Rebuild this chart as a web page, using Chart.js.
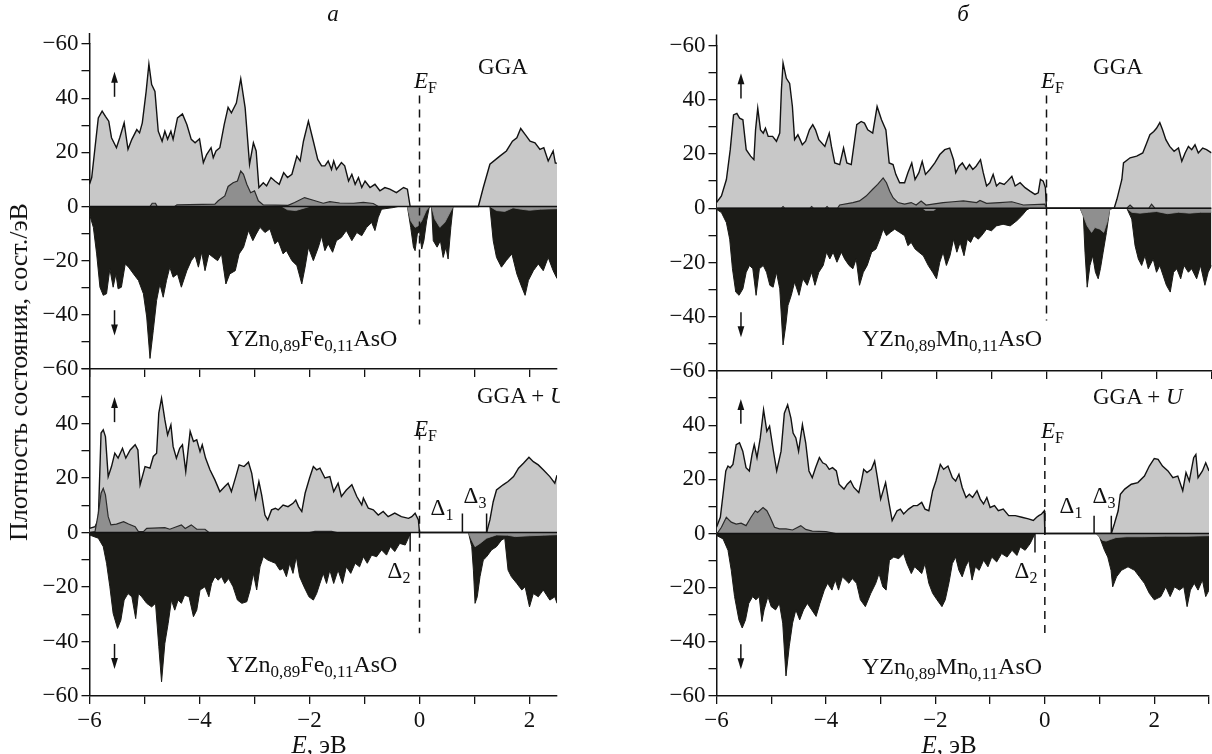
<!DOCTYPE html>
<html>
<head>
<meta charset="utf-8">
<script src="https://cdn.jsdelivr.net/npm/chart.js@4.4.1/dist/chart.umd.min.js"></script>
<style>
  html, body { margin: 0; padding: 0; background: #fff; }
  #wrap { position: relative; width: 1212px; height: 754px; overflow: hidden;
          font-family: "Liberation Serif", "Times New Roman", serif; color: #111; }
  canvas { position: absolute; left: 0; top: 0; }
  .t { position: absolute; white-space: nowrap; font-size: 23px; line-height: 1; }
  .c { transform: translate(-50%, -50%); }
  .l { transform: translateY(-50%); }
  .s { font-size: 16px; position: relative; top: 5px; }
  .f { font-size: 24px; }
  .f .s { font-size: 17px; }
  .ytitle { transform: translate(-50%, -50%) rotate(-90deg); font-size: 26px; }
  .xtitle { font-size: 25px; }
  #leftClip { position: absolute; left: 0; top: 0; width: 560px; height: 754px; overflow: hidden; }
</style>
</head>
<body>
<div id="wrap">
  <canvas id="feGga" width="1212" height="754"></canvas>
  <canvas id="feU" width="1212" height="754"></canvas>
  <canvas id="mnGga" width="1212" height="754"></canvas>
  <canvas id="mnU" width="1212" height="754"></canvas>

  <div class="t c" style="left:333px;top:13px;"><i>а</i></div>
  <div class="t c" style="left:963px;top:13px;"><i>б</i></div>

  <div class="t c ytitle" style="left:19px;top:372px;">Плотность состояния, сост./эВ</div>
  <div class="t c xtitle" style="left:319px;top:744px;"><i>E</i>, эВ</div>
  <div class="t c xtitle" style="left:949px;top:744px;"><i>E</i>, эВ</div>

  <div id="leftClip">
    <div class="t l" style="left:477px;top:395px;">GGA + <i>U</i></div>
  </div>
  <div class="t c" style="left:503px;top:66px;">GGA</div>
  <div class="t c" style="left:1118px;top:66px;">GGA</div>
  <div class="t l" style="left:1093px;top:396px;">GGA + <i>U</i></div>

  <div class="t l" style="left:414px;top:80px;"><i>E</i><span class="s">F</span></div>
  <div class="t l" style="left:414px;top:428px;"><i>E</i><span class="s">F</span></div>
  <div class="t l" style="left:1041px;top:80px;"><i>E</i><span class="s">F</span></div>
  <div class="t l" style="left:1041px;top:430px;"><i>E</i><span class="s">F</span></div>

  <div class="t c f" style="left:312px;top:338px;">YZn<span class="s">0,89</span>Fe<span class="s">0,11</span>AsO</div>
  <div class="t c f" style="left:312px;top:664px;">YZn<span class="s">0,89</span>Fe<span class="s">0,11</span>AsO</div>
  <div class="t c f" style="left:952px;top:338px;">YZn<span class="s">0,89</span>Mn<span class="s">0,11</span>AsO</div>
  <div class="t c f" style="left:952px;top:666px;">YZn<span class="s">0,89</span>Mn<span class="s">0,11</span>AsO</div>

  <div class="t c" style="left:442px;top:507px;">Δ<span class="s">1</span></div>
  <div class="t c" style="left:475px;top:495px;">Δ<span class="s">3</span></div>
  <div class="t c" style="left:399px;top:570px;">Δ<span class="s">2</span></div>
  <div class="t c" style="left:1071px;top:505px;">Δ<span class="s">1</span></div>
  <div class="t c" style="left:1104px;top:495px;">Δ<span class="s">3</span></div>
  <div class="t c" style="left:1026px;top:570px;">Δ<span class="s">2</span></div>
</div>

<script>
// Density of states, [energy (eV), states/eV]; spin up positive, spin down negative.

// YZn0.89Fe0.11AsO, GGA
const feGgaUp = [[-6,8.2],[-5.96,10.7],[-5.9,21.7],[-5.84,32.7],[-5.77,35.2],[-5.71,33.3],[-5.65,31.5],[-5.6,25.4],[-5.51,21.7],[-5.45,25.4],[-5.37,30.9],[-5.3,21.1],[-5.23,24.8],[-5.14,28.4],[-5.09,27.2],[-5.04,30.9],[-4.97,42.5],[-4.92,52.6],[-4.87,45],[-4.81,42.5],[-4.75,27.8],[-4.68,24.1],[-4.63,27.8],[-4.58,24.8],[-4.52,27.8],[-4.48,24.8],[-4.4,32.7],[-4.31,34.2],[-4.23,30.3],[-4.15,24.8],[-4.08,23.5],[-4.0,25],[-3.93,16.2],[-3.87,19.2],[-3.79,21.7],[-3.75,18],[-3.7,20.5],[-3.63,21.7],[-3.55,30.3],[-3.48,36.6],[-3.42,34.6],[-3.33,38.2],[-3.25,47.2],[-3.17,36.4],[-3.09,15.6],[-3.02,23.5],[-2.97,20.5],[-2.92,7],[-2.84,8.8],[-2.78,7.6],[-2.7,10.7],[-2.63,9.4],[-2.55,8.2],[-2.47,12.5],[-2.4,10.7],[-2.32,11.9],[-2.23,18.6],[-2.17,16.8],[-2.11,24.1],[-2.02,31.5],[-1.93,24.1],[-1.85,17.4],[-1.78,15],[-1.72,15],[-1.66,16.8],[-1.6,13.7],[-1.56,16.8],[-1.51,13.7],[-1.42,16.2],[-1.36,15],[-1.29,9.4],[-1.23,11.9],[-1.17,8.2],[-1.11,10.7],[-1.05,7],[-0.99,9.4],[-0.9,7],[-0.81,8.2],[-0.72,5.8],[-0.63,7],[-0.54,6.4],[-0.42,5.1],[-0.29,7],[-0.22,6.4],[-0.17,0],[1.07,0],[1.16,7],[1.28,15.6],[1.46,18.6],[1.58,20.5],[1.69,24.1],[1.77,25.4],[1.84,28.8],[1.92,26.6],[2.01,24.1],[2.1,23.5],[2.19,21.1],[2.26,21.7],[2.34,16.8],[2.43,20.5],[2.47,16],[2.5,16]];
const feGgaUpFe = [[-6,0],[-4.9,0],[-4.86,1.2],[-4.8,1.2],[-4.77,0],[-4.45,0],[-4.41,0.6],[-3.72,0.9],[-3.66,2.1],[-3.54,3.9],[-3.48,7.4],[-3.39,8.8],[-3.31,9.4],[-3.25,13.1],[-3.2,11.9],[-3.14,8.2],[-3.07,5.1],[-3.0,5.8],[-2.93,2.1],[-2.84,0.6],[-2.39,0.4],[-2.27,1.5],[-2.09,3.3],[-1.93,2.3],[-1.75,1.2],[-1.63,1.8],[-1.45,1.3],[-1.2,1.2],[-1.02,1.5],[-0.84,1.1],[-0.75,0],[2.5,0]];
const feGgaDown = [[-6,-2.8],[-5.93,-7.7],[-5.87,-17.5],[-5.81,-29.8],[-5.75,-32.8],[-5.69,-32.2],[-5.63,-23],[-5.57,-29.8],[-5.52,-24.9],[-5.48,-30.4],[-5.42,-29.8],[-5.35,-21.2],[-5.29,-22.4],[-5.2,-24.9],[-5.11,-27.3],[-5.02,-32.2],[-4.96,-40.8],[-4.9,-56.1],[-4.84,-45.7],[-4.78,-34.7],[-4.72,-28.6],[-4.66,-33.5],[-4.6,-27.3],[-4.54,-22.4],[-4.48,-26.1],[-4.4,-24.9],[-4.33,-29.8],[-4.23,-23.7],[-4.15,-20],[-4.08,-18.1],[-4.02,-22.4],[-3.96,-16.9],[-3.9,-23.7],[-3.83,-17.5],[-3.75,-18.8],[-3.67,-20],[-3.6,-17.5],[-3.52,-28.6],[-3.45,-24.9],[-3.35,-23.7],[-3.28,-17.5],[-3.2,-15.1],[-3.11,-8.9],[-3.03,-12.6],[-2.97,-10.2],[-2.9,-7.7],[-2.81,-9.6],[-2.72,-8.3],[-2.63,-13.8],[-2.57,-12.6],[-2.48,-17.5],[-2.42,-16.3],[-2.32,-20],[-2.23,-21.8],[-2.14,-28.6],[-2.08,-22.4],[-2.02,-15.1],[-1.93,-20],[-1.84,-15.1],[-1.78,-11],[-1.72,-16.3],[-1.66,-13.8],[-1.58,-16.9],[-1.51,-12.6],[-1.42,-11.4],[-1.33,-8.9],[-1.23,-12.6],[-1.14,-9.6],[-1.05,-10.8],[-0.96,-7.7],[-0.87,-5.9],[-0.81,-8.9],[-0.75,-4],[-0.69,-1],[-0.48,-0.4],[-0.39,0],[-0.22,0],[-0.16,-7.7],[-0.11,-15],[-0.08,-16.3],[-0.04,-10.2],[0,-9],[0.04,-15.7],[0.08,-12.6],[0.13,-5.3],[0.18,0],[0.22,0],[0.25,-12.6],[0.32,-15],[0.38,-12.6],[0.43,-18.8],[0.48,-15],[0.52,-19.4],[0.57,-7.7],[0.61,0],[1.28,0],[1.34,-12.6],[1.4,-18.8],[1.49,-22.4],[1.58,-19.9],[1.68,-17.5],[1.77,-24.9],[1.86,-29.8],[1.92,-32.8],[1.98,-27.3],[2.07,-23.7],[2.16,-21.2],[2.25,-23.7],[2.34,-18.8],[2.43,-23.7],[2.5,-26.6]];
const feGgaDownFe = [[-6,0],[-2.5,0],[-2.4,-1.2],[-2.25,-1.5],[-2.1,-0.6],[-2.0,0],[-0.22,0],[-0.16,-5.3],[-0.08,-7.7],[-0.02,-7.1],[0.04,-5.3],[0.12,-1.6],[0.18,0],[0.22,0],[0.28,-4.7],[0.37,-7.7],[0.46,-5.9],[0.54,-2.8],[0.61,0],[1.28,0],[1.4,-1.5],[1.55,-1.8],[1.7,-0.5],[1.85,-1.0],[2.0,-1.4],[2.2,-1.0],[2.5,-0.8]];

// YZn0.89Fe0.11AsO, GGA + U
const feUUp = [[-6,1.5],[-5.9,2.1],[-5.84,4.6],[-5.79,36.5],[-5.75,37.7],[-5.71,35.2],[-5.66,20.5],[-5.6,24.2],[-5.54,29.1],[-5.48,27.3],[-5.4,30.9],[-5.34,27.3],[-5.26,30.3],[-5.17,32.2],[-5.12,30.3],[-5.08,17.5],[-4.99,24.2],[-4.9,23.6],[-4.84,27.9],[-4.78,29.1],[-4.74,43.8],[-4.69,49.3],[-4.63,41.4],[-4.58,35.8],[-4.52,39.5],[-4.48,31.6],[-4.42,27.3],[-4.36,30.9],[-4.31,32.2],[-4.25,22.4],[-4.17,37.1],[-4.11,33.4],[-4.05,34],[-3.99,29.7],[-3.95,32.2],[-3.89,27.3],[-3.81,23],[-3.72,19.3],[-3.63,15],[-3.54,16.9],[-3.48,18.1],[-3.42,15],[-3.34,20.5],[-3.28,24.8],[-3.19,24.2],[-3.11,25.8],[-3.05,21.7],[-2.98,12.6],[-2.92,18.7],[-2.87,13.8],[-2.81,6.4],[-2.76,4.6],[-2.69,8.3],[-2.62,8.9],[-2.57,8.3],[-2.48,10.1],[-2.39,9.5],[-2.3,10.7],[-2.25,11.9],[-2.2,9.5],[-2.14,7.7],[-2.08,14.4],[-2.0,19.9],[-1.93,24.2],[-1.87,23],[-1.81,23.6],[-1.72,20],[-1.63,20.5],[-1.56,15],[-1.48,18.1],[-1.42,13.2],[-1.33,15.6],[-1.23,17.5],[-1.14,13.2],[-1.05,10.1],[-1.02,12.6],[-0.93,8.9],[-0.84,8.3],[-0.75,6.4],[-0.66,7.7],[-0.57,5.8],[-0.45,7.1],[-0.33,5.8],[-0.2,5.2],[-0.14,5.8],[-0.08,7.1],[-0.02,4.6],[0,0],[1.22,0],[1.28,4.6],[1.34,11.3],[1.4,15.6],[1.52,17.5],[1.61,18.7],[1.71,20.5],[1.8,23.6],[1.89,25.4],[1.99,27.6],[2.07,26],[2.16,24.8],[2.25,23],[2.37,20.5],[2.46,18.1],[2.5,21]];
const feUUpFe = [[-6,0],[-5.9,0.3],[-5.84,7],[-5.79,14.4],[-5.75,16.2],[-5.71,13.8],[-5.66,5.8],[-5.61,2.8],[-5.51,3.1],[-5.38,4],[-5.29,3.1],[-5.17,2.1],[-5.11,0.3],[-5.02,0.3],[-4.96,1.5],[-4.63,1.8],[-4.54,1.2],[-4.42,2.1],[-4.33,2.8],[-4.26,1.5],[-4.15,2.8],[-4.05,1.2],[-3.9,1.2],[-3.83,0],[-2.0,0],[-1.9,0.4],[-1.6,0.4],[-1.5,0],[2.5,0]];
const feUDown = [[-6,-0.9],[-5.84,-2.1],[-5.75,-5.2],[-5.69,-11.3],[-5.63,-19.9],[-5.57,-29.7],[-5.49,-35.2],[-5.43,-32.2],[-5.37,-24.8],[-5.3,-22.4],[-5.23,-23.6],[-5.16,-31.6],[-5.11,-22.4],[-5.05,-23.6],[-4.96,-26],[-4.87,-27.3],[-4.8,-26],[-4.74,-41.9],[-4.69,-54.8],[-4.63,-40.7],[-4.57,-33.4],[-4.51,-24.8],[-4.45,-28.5],[-4.39,-24.8],[-4.33,-26],[-4.27,-23],[-4.19,-23.6],[-4.11,-30.9],[-4.05,-28.5],[-3.99,-21.1],[-3.9,-19.9],[-3.83,-23.6],[-3.78,-18.7],[-3.72,-16.2],[-3.66,-17.5],[-3.6,-16.2],[-3.54,-18.7],[-3.47,-16.9],[-3.39,-19.9],[-3.31,-24.8],[-3.23,-26],[-3.14,-25.4],[-3.08,-21.1],[-3.02,-15],[-2.96,-21.1],[-2.9,-12.6],[-2.84,-8.9],[-2.76,-10.1],[-2.69,-10.7],[-2.62,-11.3],[-2.54,-13.8],[-2.48,-13.2],[-2.42,-16.2],[-2.36,-11.3],[-2.3,-15],[-2.24,-8.9],[-2.18,-16.2],[-2.1,-19.9],[-2.01,-23.6],[-1.93,-24.8],[-1.87,-22.4],[-1.81,-18.7],[-1.75,-15],[-1.69,-18.7],[-1.63,-13.8],[-1.56,-18.7],[-1.48,-13.8],[-1.4,-18.7],[-1.33,-12.6],[-1.25,-15],[-1.17,-11.3],[-1.09,-12.6],[-1.02,-8.9],[-0.95,-11.3],[-0.87,-8.3],[-0.78,-8.9],[-0.69,-6.4],[-0.6,-8.3],[-0.53,-5.2],[-0.45,-7],[-0.36,-4],[-0.26,-4.6],[-0.19,-1.5],[-0.16,0],[0.89,0],[0.95,-5.2],[0.98,-13.8],[1.01,-26],[1.05,-23.6],[1.1,-16.2],[1.16,-10.1],[1.22,-8.9],[1.31,-6.4],[1.4,-5.2],[1.49,-2.8],[1.55,-2.1],[1.61,-13.8],[1.67,-16.2],[1.77,-18.7],[1.86,-21.1],[1.92,-19.9],[2.0,-27.3],[2.07,-22.4],[2.16,-23.6],[2.25,-21.1],[2.37,-24.8],[2.46,-23.6],[2.5,-26]];
const feUDownFe = [[-6,0],[0.89,0],[0.95,-2.8],[1.01,-5.2],[1.1,-4],[1.22,-2.1],[1.4,-0.9],[1.6,-1.0],[1.74,-1.5],[2.0,-1.2],[2.25,-1.0],[2.5,-0.8]];

// YZn0.89Mn0.11AsO, GGA
const mnGgaUp = [[-6,2.1],[-5.91,4.5],[-5.82,10.6],[-5.75,21.6],[-5.69,34.4],[-5.63,35],[-5.58,33.2],[-5.52,32.6],[-5.46,21.6],[-5.38,19.2],[-5.32,17.9],[-5.29,28.9],[-5.25,36.9],[-5.2,28.9],[-5.15,27.7],[-5.11,29.5],[-5.06,26.5],[-4.98,26.5],[-4.91,24.7],[-4.85,27.7],[-4.82,43.6],[-4.79,53.6],[-4.73,47.9],[-4.67,46],[-4.62,37.5],[-4.58,25.3],[-4.52,27.1],[-4.48,25.3],[-4.44,23.4],[-4.38,24.7],[-4.31,28.9],[-4.25,30.8],[-4.2,28.9],[-4.14,25.3],[-4.03,22.8],[-3.95,27.7],[-3.91,22.8],[-3.85,16.7],[-3.76,16.1],[-3.69,22.2],[-3.63,16.7],[-3.55,16.1],[-3.45,30.8],[-3.37,32],[-3.31,31.4],[-3.25,28.9],[-3.16,27.7],[-3.08,37.5],[-3.0,32.6],[-2.92,28.9],[-2.86,16.7],[-2.79,16.1],[-2.74,12.5],[-2.67,9.4],[-2.58,9.4],[-2.52,13.1],[-2.45,16.7],[-2.39,10.6],[-2.32,13.1],[-2.26,17.3],[-2.2,12.5],[-2.12,14.3],[-2.03,16.7],[-1.94,19.8],[-1.85,21.6],[-1.76,22.2],[-1.69,17.9],[-1.65,13.1],[-1.59,15.5],[-1.53,16.7],[-1.46,14.3],[-1.4,16.1],[-1.34,14.3],[-1.28,15.5],[-1.2,17.9],[-1.15,13.1],[-1.09,8.2],[-1.03,9.4],[-0.97,12.5],[-0.91,8.2],[-0.85,9.4],[-0.77,8.8],[-0.71,10],[-0.63,11.8],[-0.57,8.2],[-0.48,9.4],[-0.39,7.6],[-0.3,6.3],[-0.21,5.1],[-0.15,5.7],[-0.11,10.6],[-0.06,10],[-0.02,7.6],[0,0],[1.23,0],[1.28,3.3],[1.37,10.6],[1.4,16.7],[1.52,18.6],[1.64,19.2],[1.75,20.4],[1.82,24],[1.88,27.1],[1.95,28.3],[2.0,29.5],[2.06,31.6],[2.11,28.9],[2.17,25.3],[2.24,22.8],[2.32,21],[2.4,22.2],[2.46,17.3],[2.52,20.4],[2.58,22.8],[2.64,21.6],[2.7,23.4],[2.76,20.4],[2.84,22.2],[2.91,21.6],[3.0,20.4]];
const mnGgaUpMn = [[-6,0],[-4.82,0],[-4.79,0.6],[-4.76,0],[-4.3,0],[-4.27,0.6],[-4.24,0],[-4.02,0],[-3.99,0.6],[-3.96,0],[-3.8,0],[-3.76,1.2],[-3.52,2.1],[-3.4,2.7],[-3.28,4.5],[-3.16,7],[-3.07,8.8],[-2.97,11.2],[-2.91,9.4],[-2.85,6.3],[-2.79,3.9],[-2.7,2.1],[-2.58,1.5],[-2.46,2.1],[-2.37,1.2],[-2.28,2.7],[-2.19,1.2],[-1.88,2.1],[-1.7,2.4],[-1.51,2.7],[-1.27,2.1],[-1.21,2.9],[-1.09,1.8],[-0.85,2.1],[-0.63,2.4],[-0.42,1.2],[-0.03,1.5],[0,0],[1.46,0],[1.52,1.2],[1.58,0],[1.86,0],[1.91,1.5],[1.97,0],[3,0]];
const mnGgaDown = [[-6,-0.4],[-5.91,-1.6],[-5.82,-5.3],[-5.76,-11.4],[-5.71,-22.3],[-5.65,-30.9],[-5.59,-32.1],[-5.52,-29.7],[-5.46,-23.6],[-5.4,-21.1],[-5.34,-22.3],[-5.28,-32.1],[-5.22,-22.3],[-5.15,-21.1],[-5.09,-23.6],[-5.03,-28.4],[-4.97,-29.1],[-4.91,-23.6],[-4.85,-29.7],[-4.79,-50.4],[-4.74,-43.1],[-4.7,-35.8],[-4.64,-32.1],[-4.58,-27.2],[-4.5,-32.1],[-4.43,-26],[-4.35,-28.4],[-4.27,-23.6],[-4.21,-28.4],[-4.14,-23.6],[-4.06,-21.1],[-4.0,-16.2],[-3.94,-18.7],[-3.88,-16.2],[-3.81,-19.9],[-3.73,-16.2],[-3.67,-18.7],[-3.59,-21.1],[-3.52,-22.3],[-3.46,-18.7],[-3.4,-28.4],[-3.33,-23.6],[-3.26,-21.1],[-3.18,-16.2],[-3.1,-15],[-3.03,-11.4],[-2.97,-7.7],[-2.91,-10.1],[-2.84,-8.9],[-2.76,-7.7],[-2.67,-8.9],[-2.58,-10.1],[-2.52,-13.8],[-2.46,-12.6],[-2.39,-15],[-2.32,-16.2],[-2.24,-17.5],[-2.15,-21.1],[-2.07,-23.6],[-2.0,-26],[-1.94,-19.9],[-1.88,-16.2],[-1.82,-21.1],[-1.755,-17.5],[-1.69,-11.4],[-1.63,-16.2],[-1.57,-12.6],[-1.5,-17.5],[-1.44,-11.4],[-1.38,-12.6],[-1.32,-10.1],[-1.24,-11.4],[-1.18,-10.1],[-1.09,-7.7],[-1.0,-8.3],[-0.91,-6.5],[-0.79,-5.9],[-0.66,-6.5],[-0.54,-4.6],[-0.45,-2.8],[-0.36,-0.6],[-0.3,0],[0.61,0],[0.67,-2.8],[0.7,-16.2],[0.74,-29.1],[0.79,-21.1],[0.84,-17.5],[0.89,-23.6],[0.94,-26],[0.98,-22.3],[1.03,-16.2],[1.09,-8.9],[1.15,-0.4],[1.21,0],[1.46,0],[1.55,-4],[1.61,-13.8],[1.67,-18.7],[1.73,-21.1],[1.79,-17.5],[1.85,-22.3],[1.94,-18.7],[2.0,-23.6],[2.06,-21.1],[2.12,-24.8],[2.18,-28.4],[2.25,-30.9],[2.31,-23.6],[2.37,-22.3],[2.44,-26],[2.5,-21.1],[2.58,-23.6],[2.64,-22.3],[2.73,-26],[2.8,-21.1],[2.88,-28.4],[2.94,-23.6],[3.0,-21.1]];
const mnGgaDownMn = [[-6,0],[-2.25,0],[-2.2,-0.8],[-2.05,-0.8],[-2.0,0],[0.61,0],[0.67,-2.8],[0.74,-6.5],[0.82,-8.9],[0.88,-7.1],[0.97,-7.7],[1.04,-8.9],[1.11,-4.6],[1.15,-0.4],[1.21,0],[1.46,0],[1.55,-1.5],[1.7,-1.8],[1.85,-1.5],[2.0,-1.2],[2.2,-2],[2.4,-1.5],[2.6,-1.8],[2.8,-1.5],[3.0,-1.5]];

// YZn0.89Mn0.11AsO, GGA + U
const mnUUp = [[-6,2.3],[-5.93,6],[-5.88,14.5],[-5.83,23.1],[-5.79,24.9],[-5.75,24.3],[-5.7,25.5],[-5.64,32.8],[-5.58,33.5],[-5.52,30.4],[-5.46,24.3],[-5.4,23.1],[-5.35,29.2],[-5.31,32.8],[-5.26,28],[-5.2,35.3],[-5.14,45.7],[-5.08,37.7],[-5.03,39.6],[-4.96,30.4],[-4.9,23.1],[-4.82,30.4],[-4.76,44.4],[-4.7,47.5],[-4.64,42.6],[-4.6,37.1],[-4.55,35.3],[-4.5,30.4],[-4.43,40.2],[-4.37,33.5],[-4.31,23.1],[-4.25,20.6],[-4.19,24.3],[-4.12,28],[-4.06,26.1],[-4.0,25.5],[-3.94,23.7],[-3.88,24.3],[-3.81,23.1],[-3.76,18.2],[-3.67,16.4],[-3.61,18.2],[-3.55,19.4],[-3.49,17],[-3.4,15.1],[-3.35,19.4],[-3.31,23.7],[-3.25,22.5],[-3.17,23.7],[-3.11,26.7],[-3.06,20.6],[-3.0,12.7],[-2.91,18.8],[-2.85,11.5],[-2.79,4.8],[-2.7,8.4],[-2.64,9],[-2.58,7.2],[-2.49,9],[-2.4,10.3],[-2.33,10.3],[-2.25,11.5],[-2.19,9],[-2.12,8.4],[-2.05,15.8],[-1.99,19.4],[-1.91,25.5],[-1.85,23.7],[-1.77,24.9],[-1.69,20.6],[-1.63,19.4],[-1.57,21.9],[-1.51,17],[-1.44,13.3],[-1.38,14.5],[-1.32,13.3],[-1.24,15.8],[-1.18,12.7],[-1.12,10.9],[-1.06,13.3],[-1.0,9.6],[-0.92,10.3],[-0.85,8.4],[-0.76,9],[-0.66,6.6],[-0.54,6.6],[-0.42,6],[-0.3,5.4],[-0.21,4.8],[-0.15,6],[-0.11,6.6],[-0.06,7.2],[-0.01,8.4],[0,0],[1.215,0],[1.27,3.5],[1.34,8.4],[1.38,14.5],[1.46,16.4],[1.58,18.2],[1.7,18.8],[1.82,21.2],[1.91,24.9],[2.0,27.7],[2.07,27.4],[2.15,24.9],[2.25,23.1],[2.34,20.6],[2.43,21.2],[2.52,15.8],[2.58,22.5],[2.64,19.4],[2.72,28],[2.76,29.2],[2.8,20.6],[2.88,23.1],[2.94,26.1],[3.0,23.1]];
const mnUUpMn = [[-6,0],[-5.97,0.5],[-5.91,2.3],[-5.82,6],[-5.73,4.2],[-5.64,3.5],[-5.55,3.8],[-5.46,2.9],[-5.37,6],[-5.29,8.4],[-5.25,7.8],[-5.15,9.6],[-5.08,8.4],[-5.02,6],[-4.94,2.3],[-4.85,1.7],[-4.73,1.7],[-4.61,1.3],[-4.46,2.9],[-4.37,1.5],[-4.25,0.9],[-4.0,0.7],[-3.82,0],[3,0]];
const mnUDown = [[-6,-0.7],[-5.88,-2],[-5.79,-6.2],[-5.73,-13.6],[-5.67,-23.3],[-5.59,-31.9],[-5.53,-34.9],[-5.47,-31.9],[-5.41,-25.8],[-5.34,-23.3],[-5.28,-24.5],[-5.22,-23.3],[-5.17,-32.5],[-5.13,-28.2],[-5.06,-23.3],[-5.0,-27],[-4.92,-28.2],[-4.85,-25.8],[-4.79,-33.1],[-4.73,-52.6],[-4.67,-41.6],[-4.61,-33.1],[-4.55,-28.2],[-4.48,-31.9],[-4.41,-28.2],[-4.34,-25.8],[-4.26,-28.2],[-4.18,-30.6],[-4.11,-25.8],[-4.03,-20.9],[-3.97,-18.4],[-3.89,-20.9],[-3.83,-17.2],[-3.77,-20.9],[-3.7,-16],[-3.64,-17.2],[-3.58,-18.4],[-3.52,-16.6],[-3.44,-18.4],[-3.37,-24.5],[-3.28,-27],[-3.18,-22.1],[-3.09,-18.4],[-3.03,-14.8],[-2.96,-19.7],[-2.9,-20.9],[-2.84,-9.9],[-2.76,-8.7],[-2.67,-9.3],[-2.58,-7.4],[-2.52,-11.1],[-2.44,-14.8],[-2.38,-12.3],[-2.31,-13.6],[-2.25,-14.8],[-2.19,-11.1],[-2.12,-18.4],[-2.05,-22.1],[-1.97,-24.5],[-1.88,-27],[-1.82,-24.5],[-1.75,-18],[-1.69,-11.1],[-1.63,-8.7],[-1.57,-13.6],[-1.51,-16],[-1.45,-12.3],[-1.39,-9.9],[-1.33,-17.2],[-1.27,-12.3],[-1.2,-13.6],[-1.12,-9.9],[-1.04,-12.3],[-0.97,-8.7],[-0.88,-10.5],[-0.79,-7.4],[-0.69,-8.7],[-0.6,-6.2],[-0.51,-8.1],[-0.45,-5],[-0.36,-6.2],[-0.27,-3.8],[-0.21,-1.3],[-0.18,0],[0.94,0],[1.0,-1.3],[1.09,-6.2],[1.15,-8.7],[1.21,-13.6],[1.24,-19.7],[1.31,-16],[1.4,-13.6],[1.52,-12.3],[1.64,-13.6],[1.73,-16],[1.82,-18.4],[1.91,-22.1],[2.0,-24.5],[2.12,-23.3],[2.21,-19.7],[2.29,-23.3],[2.37,-19.7],[2.46,-20.9],[2.54,-19.7],[2.6,-27],[2.66,-20.9],[2.73,-18.4],[2.8,-20.9],[2.88,-17.2],[2.94,-23.3],[3.0,-20.9]];
const mnUDownMn = [[-6,0],[0.94,0],[1.0,-1.3],[1.05,-2.5],[1.12,-2.8],[1.2,-2.2],[1.3,-1.5],[1.5,-1.2],[1.8,-1.2],[2.2,-1.0],[2.6,-1.0],[3.0,-0.8]];

// Y-axis tick values and their printed labels
const yTicks = [-60, -50, -40, -30, -20, -10, 0, 10, 20, 30, 40, 50, 60];
const yLabelsTop = ['−60', '', '−40', '', '−20', '', '0', '', '20', '', '40', '', '−60'];
const yLabelsBottom = ['−60', '', '−40', '', '−20', '', '0', '', '20', '', '40', '', ''];
// Energy ticks that carry a label
const xLabelValues = [-6, -4, -2, 0, 2];

const LIGHT = '#c8c8c8';
const MID = '#8f8f8f';
const DARK = '#1b1b17';
const INK = '#121212';
const FONT = { family: '"Liberation Serif", "Times New Roman", serif', size: 23 };

// spin-direction arrows (data units) and the short axis stub above the top panels
const panelDecor = {
  id: 'panelDecor',
  afterDatasetsDraw(chart, args, opts) {
    const { ctx, chartArea, scales: { x, y } } = chart;
    ctx.save();
    ctx.strokeStyle = INK; ctx.fillStyle = INK; ctx.lineWidth = 1.5;
    if (opts.stub) {
      ctx.beginPath(); ctx.moveTo(chartArea.left, chartArea.top); ctx.lineTo(chartArea.left, chartArea.top - opts.stub); ctx.stroke();
    }
    for (const a of (opts.arrows || [])) {
      const px = x.getPixelForValue(a.x);
      const p0 = y.getPixelForValue(a.from), p1 = y.getPixelForValue(a.to);
      const dir = Math.sign(p1 - p0);
      ctx.beginPath(); ctx.moveTo(px, p0); ctx.lineTo(px, p1 - dir * 8); ctx.stroke();
      ctx.beginPath();
      ctx.moveTo(px, p1); ctx.lineTo(px - 3.4, p1 - dir * 11); ctx.lineTo(px + 3.4, p1 - dir * 11);
      ctx.closePath(); ctx.fill();
    }
    ctx.restore();
  }
};

const pts = arr => arr.map(([x, y]) => ({ x, y }));
const seg = (x0, y0, x1, y1) => [{ x: x0, y: y0 }, { x: x1, y: y1 }];

function panel(id, p) {
  const datasets = [
    { data: pts(p.up), fill: 'origin', backgroundColor: LIGHT, borderColor: INK, borderWidth: 1.4, order: 9 },
    { data: pts(p.upImp), fill: 'origin', backgroundColor: MID, borderColor: '#2a2a2a', borderWidth: 1.2, order: 8 },
    { data: pts(p.down), fill: 'origin', backgroundColor: DARK, borderColor: DARK, borderWidth: 1, order: 7 },
    { data: pts(p.downImp), fill: 'origin', backgroundColor: MID, borderColor: MID, borderWidth: 0.8, order: 6 },
    { data: seg(-6, 0, p.xMax, 0), borderColor: INK, borderWidth: 1.5, fill: false, order: 5 },
    { data: seg(0, p.ef[0], 0, p.ef[1]), borderColor: INK, borderWidth: 1.5, borderDash: [8, 6], fill: false, order: 4 }
  ];
  (p.gaps || []).forEach(g => datasets.push({ data: seg(g[0], 0, g[0], g[1]), borderColor: INK, borderWidth: 1.5, fill: false, order: 3 }));
  datasets.forEach(d => { d.pointRadius = 0; d.tension = 0; });

  const yLabels = p.bottom ? yLabelsBottom : yLabelsTop;
  return new Chart(document.getElementById(id), {
    type: 'line',
    data: { datasets },
    plugins: [panelDecor],
    options: {
      responsive: false, animation: false, devicePixelRatio: 1,
      layout: { padding: { left: p.area[0] - 60, right: 1212 - p.area[1], top: p.area[2], bottom: 754 - p.area[3] - (p.bottom ? 44 : 10) } },
      plugins: { legend: { display: false }, tooltip: { enabled: false }, panelDecor: { arrows: p.arrows, stub: p.bottom ? 0 : 11 } },
      scales: {
        x: {
          type: 'linear', min: -6, max: p.xMax,
          afterFit: s => { s.height = p.bottom ? 44 : 10; },
          grid: { drawOnChartArea: false, drawTicks: true, tickLength: 8, color: INK, lineWidth: 1.3 },
          border: { display: true, color: INK, width: 1.5 },
          ticks: {
            stepSize: 1, autoSkip: false, maxRotation: 0, includeBounds: false, padding: 3,
            color: INK, font: FONT, display: !!p.bottom,
            callback: v => xLabelValues.includes(v) ? (v < 0 ? '−' + Math.abs(v) : String(v)) : ''
          }
        },
        y: {
          type: 'linear', min: -60, max: 60,
          afterFit: s => { s.width = 60; },
          grid: { drawOnChartArea: false, drawTicks: true, tickLength: 8, color: INK, lineWidth: 1.3 },
          border: { display: true, color: INK, width: 1.5 },
          ticks: {
            stepSize: 10, autoSkip: false, padding: 3, color: INK, font: FONT,
            callback: v => { const i = yTicks.indexOf(v); return i < 0 ? '' : yLabels[i]; }
          }
        }
      }
    }
  });
}

panel('feGga', {
  up: feGgaUp, upImp: feGgaUpFe, down: feGgaDown, downImp: feGgaDownFe,
  xMax: 2.5, area: [89.5, 557, 44, 369], ef: [41, -43.6],
  arrows: [{ x: -5.545, from: 40.5, to: 49.8 }, { x: -5.545, from: -38.3, to: -47.6 }]
});
panel('feU', {
  up: feUUp, upImp: feUUpFe, down: feUDown, downImp: feUDownFe, bottom: true,
  xMax: 2.5, area: [89.5, 557, 369, 696], ef: [37, -37],
  gaps: [[0.78, 7], [1.22, 7], [-0.17, -7]],
  arrows: [{ x: -5.545, from: 40.5, to: 49.7 }, { x: -5.545, from: -40.9, to: -50.1 }]
});
panel('mnGga', {
  up: mnGgaUp, upImp: mnGgaUpMn, down: mnGgaDown, downImp: mnGgaDownMn,
  xMax: 3, area: [716.5, 1211.5, 45.5, 371], ef: [41.6, -41.4],
  arrows: [{ x: -5.555, from: 40.5, to: 49.8 }, { x: -5.555, from: -38.3, to: -47.6 }]
});
panel('mnU', {
  up: mnUUp, upImp: mnUUpMn, down: mnUDown, downImp: mnUDownMn, bottom: true,
  xMax: 3, area: [716.5, 1211.5, 371, 696], ef: [33.4, -36.8],
  gaps: [[0.9, 6.6], [1.215, 6.6], [-0.18, -7]],
  arrows: [{ x: -5.555, from: 40.5, to: 49.7 }, { x: -5.555, from: -40.9, to: -50.1 }]
});
</script>
</body>
</html>
